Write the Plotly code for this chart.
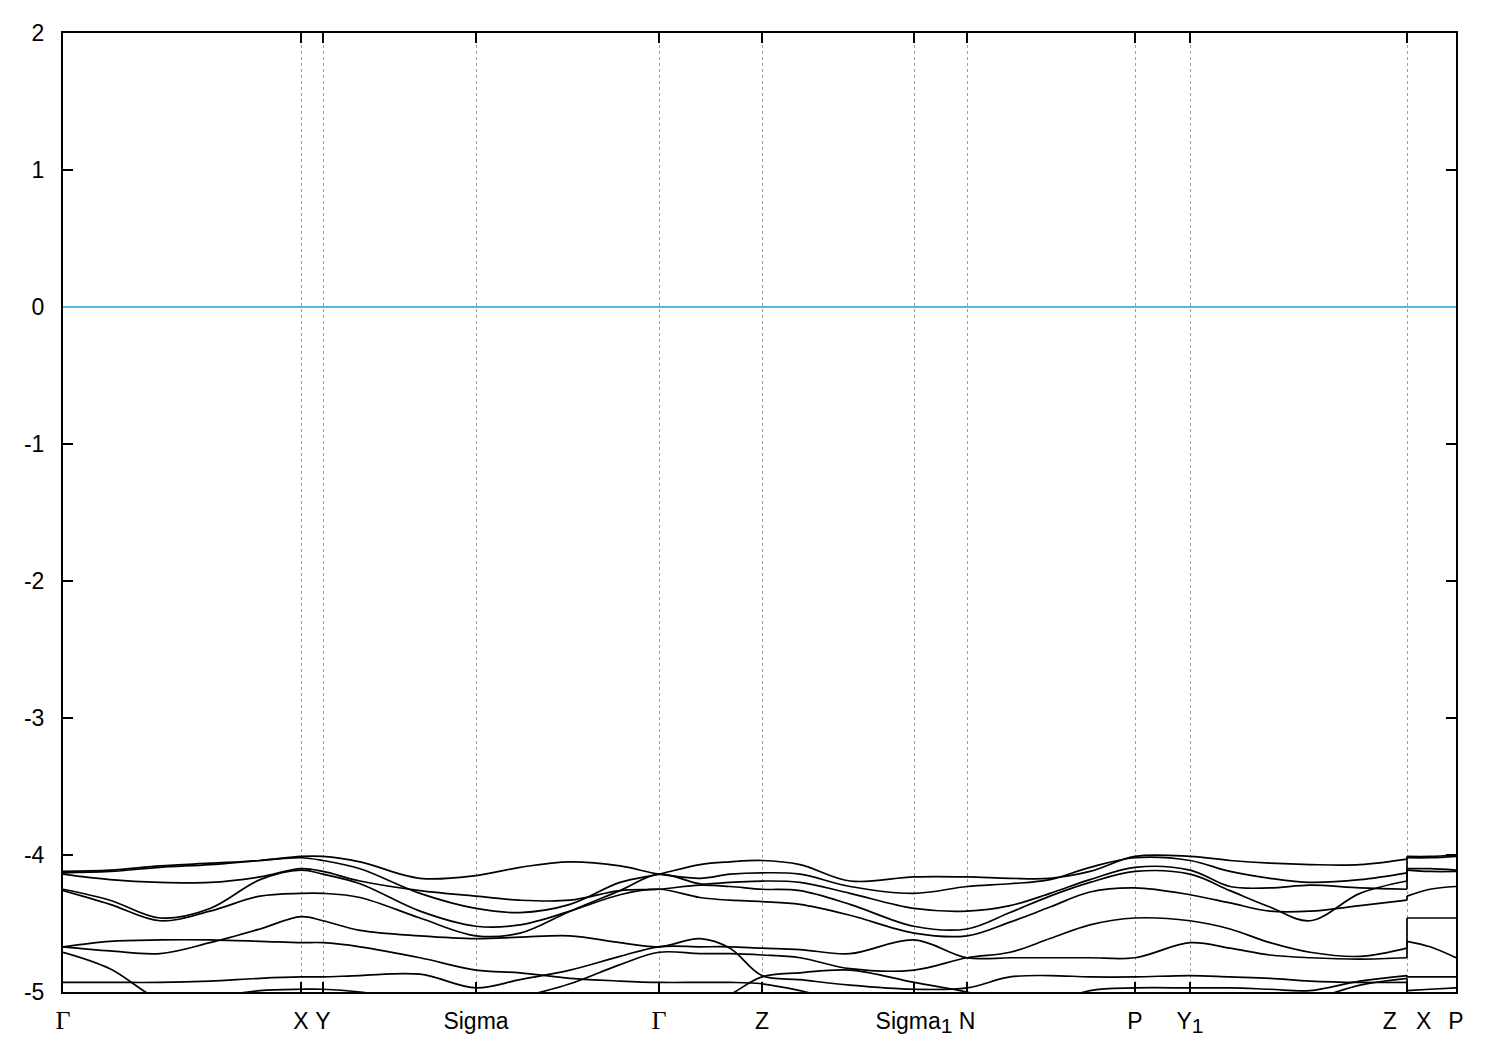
import plotly.graph_objects as go

# k-path positions (arbitrary path-length units)
k_path = [0.000, 0.047, 0.097, 0.147, 0.197, 0.238, 0.260, 0.297, 0.357, 0.413,
          0.457, 0.507, 0.557, 0.596, 0.637, 0.667, 0.699, 0.737, 0.787, 0.851,
          0.904, 0.947, 0.987, 1.027, 1.072, 1.127, 1.167, 1.207, 1.247, 1.297, 1.344]
k_path_xp = [1.344, 1.367, 1.393]

hs_k = [0.000, 0.238, 0.260, 0.413, 0.596, 0.699, 0.851, 0.904, 1.072, 1.127, 1.344, 1.393]
GAMMA = '<span style="font-family:Liberation Serif;font-size:26px">Γ</span>'
SUB1 = '<sub><span style="font-size:21px">1</span></sub>'
hs_labels = [GAMMA, "X", "Y", "Sigma", GAMMA, "Z", "Sigma" + SUB1, "N", "P",
             "Y" + SUB1, "Z\u00a0\u00a0\u00a0X", "P"]

y_ticks = [2, 1, 0, -1, -2, -3, -4, -5]
y_tick_labels = ["2", "1", "0", "-1", "-2", "-3", "-4", "-5"]

# band energies (eV) along the path Γ ... Z, then X ... P
band_u1 = [-4.12, -4.11, -4.08, -4.06, -4.04, -4.01, -4.01, -4.05, -4.17, -4.15, -4.09, -4.05, -4.08,
           -4.14, -4.17, -4.14, -4.13, -4.14, -4.23, -4.28, -4.23, -4.21, -4.18, -4.09, -4.02, -4.04,
           -4.12, -4.17, -4.20, -4.18, -4.13]
band_u1_xp = [-4.10, -4.10, -4.11]

band_u2 = [-4.13, -4.12, -4.09, -4.07, -4.04, -4.02, -4.04, -4.10, -4.28, -4.39, -4.42, -4.36, -4.20,
           -4.14, -4.07, -4.05, -4.04, -4.07, -4.19, -4.16, -4.16, -4.17, -4.17, -4.12, -4.01, -4.01,
           -4.04, -4.06, -4.07, -4.07, -4.03]
band_u2_xp = [-4.01, -4.01, -4.00]

band_u3 = [-4.14, -4.18, -4.20, -4.20, -4.16, -4.10, -4.12, -4.19, -4.26, -4.30, -4.33, -4.33, -4.26,
           -4.25, -4.22, -4.23, -4.25, -4.26, -4.36, -4.52, -4.54, -4.42, -4.30, -4.20, -4.12, -4.14,
           -4.26, -4.38, -4.48, -4.28, -4.19]
band_u3_xp = [-4.11, -4.12, -4.12]

band_u4 = [-4.25, -4.33, -4.46, -4.39, -4.18, -4.11, -4.14, -4.21, -4.41, -4.52, -4.51, -4.41, -4.29,
           -4.25, -4.31, -4.33, -4.34, -4.36, -4.44, -4.57, -4.59, -4.49, -4.38, -4.27, -4.24, -4.29,
           -4.35, -4.41, -4.41, -4.37, -4.33]
band_u4_xp = [-4.30, -4.25, -4.23]

band_u5 = [-4.26, -4.36, -4.48, -4.41, -4.30, -4.28, -4.28, -4.31, -4.46, -4.59, -4.57, -4.41, -4.26,
           -4.14, -4.21, -4.20, -4.19, -4.20, -4.28, -4.39, -4.41, -4.37, -4.28, -4.18, -4.09, -4.11,
           -4.23, -4.24, -4.22, -4.24, -4.25]
band_u5_xp = [-4.02, -4.02, -4.01]

band_la = [-4.67, -4.63, -4.62, -4.62, -4.63, -4.64, -4.64, -4.67, -4.75, -4.84, -4.86, -4.90, -4.92,
           -4.93, -4.93, -4.93, -4.94, -4.99, -5.08, -5.12, -5.12, -5.12, -5.08, -4.99, -4.97, -4.97,
           -4.97, -4.98, -4.99, -4.92, -4.88]
band_la_xp = [-4.89, -4.89, -4.89]

band_lb = [-4.67, -4.70, -4.72, -4.64, -4.54, -4.45, -4.48, -4.55, -4.59, -4.61, -4.60, -4.59, -4.64,
           -4.67, -4.61, -4.68, -4.88, -4.91, -4.95, -4.98, -4.97, -4.89, -4.88, -4.89, -4.89, -4.88,
           -4.89, -4.90, -4.92, -4.93, -4.93]
band_lb_xp = [-5.08, -5.10, -5.12]

band_lc = [-4.71, -4.83, -5.06, -5.15, -5.17, -5.17, -5.17, -5.17, -5.17, -5.17, -5.17, -5.17, -5.17,
           -5.13, -5.13, -5.02, -4.89, -4.86, -4.84, -4.93, -5.00, -5.07, -5.13, -5.13, -5.13, -5.13,
           -5.13, -5.13, -5.06, -4.95, -4.90]
band_lc_xp = [-4.99, -4.98, -4.97]

band_ld = [-4.93, -4.93, -4.93, -4.92, -4.90, -4.89, -4.89, -4.88, -4.87, -4.97, -4.91, -4.84, -4.74,
           -4.67, -4.67, -4.67, -4.68, -4.69, -4.72, -4.62, -4.75, -4.75, -4.75, -4.75, -4.75, -4.64,
           -4.68, -4.73, -4.75, -4.76, -4.75]
band_ld_xp = [-4.63, -4.67, -4.75]

band_le = [-5.13, -5.13, -5.09, -5.04, -4.99, -4.98, -4.98, -5.00, -5.07, -5.12, -5.04, -4.94, -4.80,
           -4.71, -4.72, -4.72, -4.73, -4.75, -4.83, -4.84, -4.75, -4.71, -4.61, -4.51, -4.46, -4.48,
           -4.54, -4.64, -4.71, -4.74, -4.68]
band_le_xp = [-4.46, -4.46, -4.46]

bands = [(band_u1, band_u1_xp), (band_u2, band_u2_xp), (band_u3, band_u3_xp),
         (band_u4, band_u4_xp), (band_u5, band_u5_xp), (band_la, band_la_xp),
         (band_lb, band_lb_xp), (band_lc, band_lc_xp), (band_ld, band_ld_xp),
         (band_le, band_le_xp)]

fermi_level = 0.0

fig = go.Figure()
smooth = dict(color="black", width=1.7, shape="spline", smoothing=1.0)
straight = dict(color="black", width=1.7)
for main, xp in bands:
    fig.add_trace(go.Scatter(x=k_path, y=main, mode="lines", line=smooth,
                             hoverinfo="skip", showlegend=False))
    fig.add_trace(go.Scatter(x=[k_path[-1], k_path_xp[0]], y=[main[-1], xp[0]], mode="lines",
                             line=straight, hoverinfo="skip", showlegend=False))
    fig.add_trace(go.Scatter(x=k_path_xp, y=xp, mode="lines", line=smooth,
                             hoverinfo="skip", showlegend=False))

fig.add_hline(y=fermi_level, line=dict(color="#56b4e9", width=2))

font_family = "Liberation Sans Narrow, Arial Narrow, Liberation Sans, Arial, sans-serif"
fig.update_layout(
    width=1500, height=1050,
    margin=dict(l=55, r=52, t=17, b=66),
    paper_bgcolor="white", plot_bgcolor="white",
    showlegend=False,
    font=dict(family=font_family, size=23, color="black"),
)
fig.update_xaxes(
    range=[hs_k[0], hs_k[-1]], tickmode="array", tickvals=hs_k, ticktext=hs_labels,
    ticks="inside", ticklen=10, tickwidth=2, tickcolor="black",
    showline=True, linewidth=2, linecolor="black", mirror="ticks",
    showgrid=True, gridcolor="#a0a0a0", griddash="3px,3px", gridwidth=1,
    zeroline=False, ticklabelstandoff=7,
)
fig.update_yaxes(
    range=[-5, 2], tickmode="array", tickvals=y_ticks, ticktext=y_tick_labels,
    ticks="inside", ticklen=10, tickwidth=2, tickcolor="black",
    showline=True, linewidth=2, linecolor="black", mirror="ticks",
    showgrid=False, zeroline=False, ticklabelstandoff=12,
)

fig.write_html("out.html")
